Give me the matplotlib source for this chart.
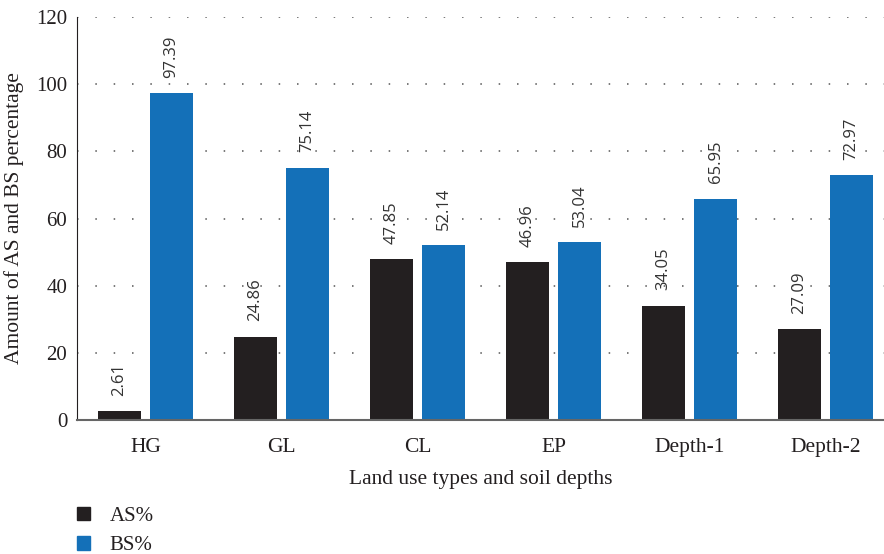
import matplotlib.pyplot as plt
import numpy as np
from matplotlib.patches import Patch

categories = ['HG', 'GL', 'CL', 'EP', 'Depth-1', 'Depth-2']
as_pct = [2.61, 24.86, 47.85, 46.96, 34.05, 27.09]
bs_pct = [97.39, 75.14, 52.14, 53.04, 65.95, 72.97]

serif = ['Liberation Serif', 'DejaVu Serif']
black = '#231f20'
blue = '#1470b8'

fig = plt.figure(figsize=(8.84, 5.54), dpi=100)
ax = fig.add_axes([77 / 884, 1 - 420 / 554, 1 - 77 / 884, (420 - 17) / 554])

x = np.arange(len(categories))
w = 0.316
off = 0.191
b1 = ax.bar(x - off, as_pct, w, color=black, zorder=2)
b2 = ax.bar(x + off, bs_pct, w, color=blue, zorder=2)

for bars, vals in ((b1, as_pct), (b2, bs_pct)):
    for b, v in zip(bars, vals):
        ax.annotate(f'{v:.2f}', (b.get_x() + b.get_width() / 2, v),
                    xytext=(0, 11), textcoords='offset points',
                    rotation=90, ha='center', va='bottom',
                    fontsize=12, color='#333333', family=['Open Sans', 'DejaVu Sans'])

ax.set_xlim(-0.504, 5.43)
ax.set_ylim(0, 120)
ax.set_yticks(range(0, 121, 20))
ax.set_xticks(x)
ax.set_xticklabels(categories, family=serif, fontsize=15.5, color='#231f20')
for t in ax.get_yticklabels():
    t.set_family(serif)
    t.set_fontsize(15)
    t.set_color('#231f20')
ax.tick_params(length=0)
ax.tick_params(axis='x', pad=13)
ax.tick_params(axis='y', pad=7)

ax.yaxis.grid(True, linestyle=(0, (1, 11)), color='#555555', linewidth=1.1)
ax.set_axisbelow(True)
for s in ('top', 'right'):
    ax.spines[s].set_visible(False)
ax.spines['left'].set_color('#231f20')
ax.spines['bottom'].set_color('#666666')
ax.spines['bottom'].set_linewidth(1.5)

ax.set_xlabel('Land use types and soil depths', family=serif, fontsize=15.5,
              color='#231f20', labelpad=9)
ax.set_ylabel('Amount of AS and BS percentage', family=serif, fontsize=15.5,
              color='#231f20', labelpad=9)

handles = [Patch(color=black, label='AS%'), Patch(color=blue, label='BS%')]
fig.legend(handles=handles, loc='upper left', bbox_to_anchor=(58 / 884, 1 - 488 / 554),
           frameon=False, prop={'family': serif, 'size': 15},
           handlelength=0.62, handleheight=0.62, handletextpad=0.95,
           labelspacing=0.5, labelcolor='#231f20')

fig.savefig('out.png', dpi=100)
